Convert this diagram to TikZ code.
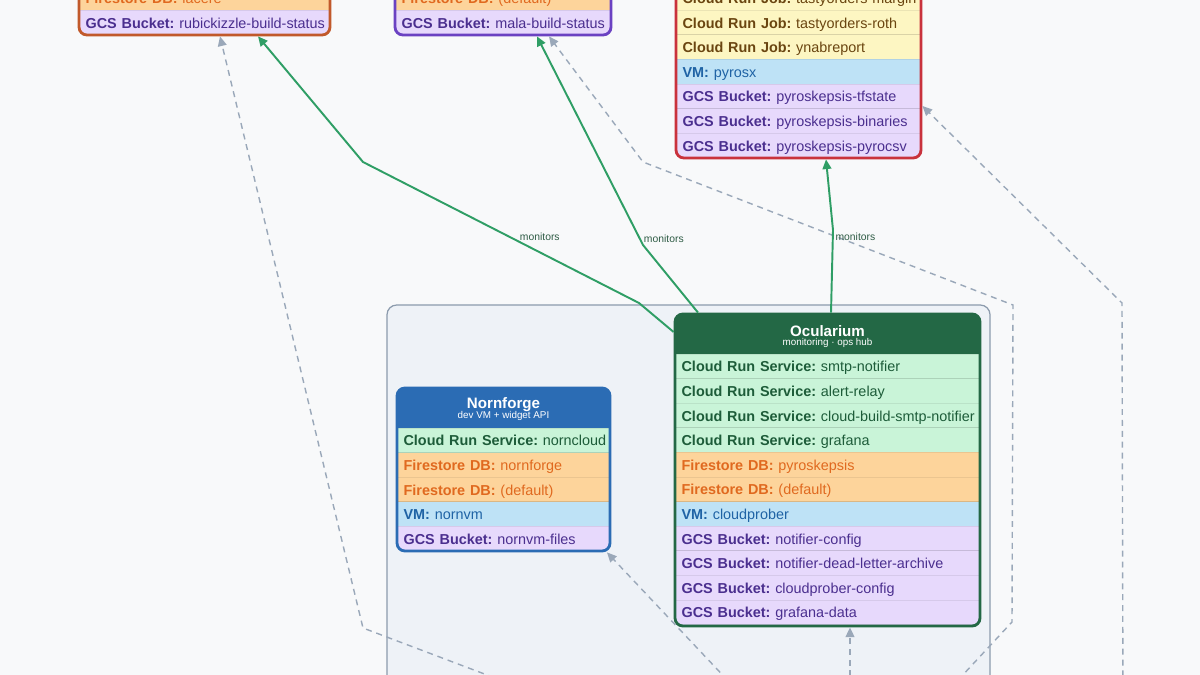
\documentclass[tikz,border=0pt]{standalone}
\usepackage{fontspec}
\setmainfont{Liberation Sans}
\usetikzlibrary{arrows.meta,fit}
\frenchspacing

\definecolor{pagebg}{HTML}{F8F9FA}
\definecolor{framefill}{HTML}{EEF2F7}
\definecolor{frameline}{HTML}{8C9BAD}
\definecolor{svcfill}{HTML}{C9F4D8}
\definecolor{svctext}{HTML}{1D5C39}
\definecolor{dbfill}{HTML}{FDD49B}
\definecolor{dbtext}{HTML}{E0691F}
\definecolor{vmfill}{HTML}{BEE2F6}
\definecolor{vmtext}{HTML}{1F63A5}
\definecolor{gcsfill}{HTML}{E7D9FC}
\definecolor{gcstext}{HTML}{4B2F8F}
\definecolor{jobfill}{HTML}{FDF6C2}
\definecolor{jobtext}{HTML}{6A4510}
\definecolor{ocuhead}{HTML}{236845}
\definecolor{nornhead}{HTML}{2B6CB4}
\definecolor{rubiline}{HTML}{C1592B}
\definecolor{malaline}{HTML}{6B42C2}
\definecolor{pyroline}{HTML}{C9323C}
\definecolor{monline}{HTML}{2F9E65}
\definecolor{depline}{HTML}{9AA8B9}
\definecolor{lbltext}{HTML}{2F5C45}

\begin{document}
\begin{tikzpicture}[x=0.02cm, y=-0.02cm, every node/.style={font=\fontsize{8.2}{9.5}\selectfont},
	row/.style={anchor=west, inner xsep=3.5pt, inner ysep=0pt, minimum height=0.492cm, text height=1.6ex, text depth=.4ex, align=left, draw=black, draw opacity=0.07, line width=0.5pt},
	svc/.style={row, fill=svcfill, text=svctext},
	db/.style={row, fill=dbfill, text=dbtext},
	vm/.style={row, fill=vmfill, text=vmtext},
	gcs/.style={row, fill=gcsfill, text=gcstext},
	job/.style={row, fill=jobfill, text=jobtext},
	card/.style={draw, line width=1.6pt, rounded corners=4.5pt, inner sep=0pt},
	title/.style={text=white, font=\fontsize{8.6}{9}\selectfont\bfseries, inner sep=0pt},
	subtitle/.style={text=white, font=\fontsize{5.6}{6}\selectfont, inner sep=0pt},
	mon/.style={color=monline, line width=1.1pt, -{Triangle[length=5.5pt, width=5pt]}},
	dep/.style={color=depline, line width=0.8pt, dash pattern=on 3.4pt off 2.8pt, -{Triangle[length=5.5pt, width=5pt]}},
	lbl/.style={text=lbltext, font=\fontsize{5.9}{6}\selectfont, inner sep=1pt}]
	\useasboundingbox (0,0) rectangle (1200,675);
	\clip (0,0) rectangle (1200,675);
	\fill[pagebg] (0,0) rectangle (1200,675);

	\coordinate (grp-nw) at (387,305);
	\coordinate (grp-se) at (990,760);
	\node[draw=frameline, fill=framefill, line width=0.7pt, rounded corners=5.5pt, inner sep=0pt, fit=(grp-nw)(grp-se)] (grp) {};

	\coordinate (rubi-nw) at (79,-40);
	\coordinate (rubi-se) at (330,35);
	\begin{scope}[row/.append style={text width=5.02cm}]
		\clip[rounded corners=4.5pt] (rubi-nw) rectangle (rubi-se);
		\node[db] (rubi-db) at (79,-2.1) {\textbf{Firestore DB:} lacere};
		\node[gcs] (rubi-gcs) at (79,22.5) {\textbf{GCS Bucket:} rubickizzle-build-status};
	\end{scope}
	\node[card, draw=rubiline, fit=(rubi-nw)(rubi-se)] (rubi) {};

	\coordinate (mala-nw) at (395,-40);
	\coordinate (mala-se) at (611,35);
	\begin{scope}[row/.append style={text width=4.32cm}]
		\clip[rounded corners=4.5pt] (mala-nw) rectangle (mala-se);
		\node[db] (mala-db) at (395,-2.1) {\textbf{Firestore DB:} (default)};
		\node[gcs] (mala-gcs) at (395,22.5) {\textbf{GCS Bucket:} mala-build-status};
	\end{scope}
	\node[card, draw=malaline, fit=(mala-nw)(mala-se)] (mala) {};

	\coordinate (pyro-nw) at (676,-60);
	\coordinate (pyro-se) at (921,158);
	\begin{scope}[row/.append style={text width=4.9cm}]
		\clip[rounded corners=4.5pt] (pyro-nw) rectangle (pyro-se);
		\node[job] (pyro-job1) at (676,-2) {\textbf{Cloud Run Job:} tastyorders-margin};
		\node[job] (pyro-job2) at (676,22.6) {\textbf{Cloud Run Job:} tastyorders-roth};
		\node[job] (pyro-job3) at (676,47.2) {\textbf{Cloud Run Job:} ynabreport};
		\node[vm] (pyro-vm) at (676,71.8) {\textbf{VM:} pyrosx};
		\node[gcs] (pyro-gcs1) at (676,96.4) {\textbf{GCS Bucket:} pyroskepsis-tfstate};
		\node[gcs] (pyro-gcs2) at (676,121) {\textbf{GCS Bucket:} pyroskepsis-binaries};
		\node[gcs] (pyro-gcs3) at (676,145.6) {\textbf{GCS Bucket:} pyroskepsis-pyrocsv};
	\end{scope}
	\node[card, draw=pyroline, fit=(pyro-nw)(pyro-se)] (pyro) {};

	\coordinate (norn-nw) at (397,388);
	\coordinate (norn-se) at (610,551);
	\begin{scope}[row/.append style={text width=4.26cm}]
		\clip[rounded corners=4.5pt] (norn-nw) rectangle (norn-se);
		\fill[nornhead] (norn-nw) rectangle (norn-se |- 0,428);
		\node[svc] (norn-svc) at (397,440.3) {\textbf{Cloud Run Service:} norncloud};
		\node[db] (norn-db1) at (397,464.9) {\textbf{Firestore DB:} nornforge};
		\node[db] (norn-db2) at (397,489.5) {\textbf{Firestore DB:} (default)};
		\node[vm] (norn-vm) at (397,514.1) {\textbf{VM:} nornvm};
		\node[gcs] (norn-gcs) at (397,538.7) {\textbf{GCS Bucket:} nornvm-files};
	\end{scope}
	\node[card, draw=nornhead, fit=(norn-nw)(norn-se)] (norn) {};
	\node[title] (norn-title) at (503.5,405) {Nornforge};
	\node[subtitle] (norn-sub) at (503.5,416) {dev VM + widget API};

	\coordinate (ocu-nw) at (675,314);
	\coordinate (ocu-se) at (980,626);
	\begin{scope}[row/.append style={text width=6.1cm}]
		\clip[rounded corners=4.5pt] (ocu-nw) rectangle (ocu-se);
		\fill[ocuhead] (ocu-nw) rectangle (ocu-se |- 0,354);
		\node[svc] (ocu-svc1) at (675,366.3) {\textbf{Cloud Run Service:} smtp-notifier};
		\node[svc] (ocu-svc2) at (675,390.9) {\textbf{Cloud Run Service:} alert-relay};
		\node[svc] (ocu-svc3) at (675,415.5) {\textbf{Cloud Run Service:} cloud-build-smtp-notifier};
		\node[svc] (ocu-svc4) at (675,440.1) {\textbf{Cloud Run Service:} grafana};
		\node[db] (ocu-db1) at (675,464.7) {\textbf{Firestore DB:} pyroskepsis};
		\node[db] (ocu-db2) at (675,489.3) {\textbf{Firestore DB:} (default)};
		\node[vm] (ocu-vm) at (675,513.9) {\textbf{VM:} cloudprober};
		\node[gcs] (ocu-gcs1) at (675,538.5) {\textbf{GCS Bucket:} notifier-config};
		\node[gcs] (ocu-gcs2) at (675,563.1) {\textbf{GCS Bucket:} notifier-dead-letter-archive};
		\node[gcs] (ocu-gcs3) at (675,587.7) {\textbf{GCS Bucket:} cloudprober-config};
		\node[gcs] (ocu-gcs4) at (675,612.3) {\textbf{GCS Bucket:} grafana-data};
	\end{scope}
	\node[card, draw=ocuhead, fit=(ocu-nw)(ocu-se)] (ocu) {};
	\node[title] (ocu-title) at (827.5,331) {Ocularium};
	\node[subtitle] (ocu-sub) at (827.5,342.5) {monitoring · ops hub};

	\coordinate (src-rubi) at (606,720);
	\coordinate (src-mala) at (921,720);
	\coordinate (src-pyro) at (1123,720);
	\coordinate (src-norn) at (765,720);
	\coordinate (src-ocu) at (850,720);
	\draw[dep] (src-rubi) -- (363,628) -- (rubi.south -| 220,0);
	\draw[dep] (src-mala) -- (1012,622) -- (1013,305) -- (643,162) -- (mala.south -| 549,0);
	\draw[dep] (src-pyro) -- (1122,303) -- (pyro.east |- 0,106);
	\draw[dep] (src-norn) -- (norn.south -| 607,0);
	\draw[dep] (src-ocu) -- (ocu.south -| 850,0);

	\draw[mon] (ocu.west |- 0,332) -- (639,303) -- (363,162) node[lbl, pos=0.47, anchor=west, xshift=4.5pt] (lbl-rubi) {monitors} -- (rubi.south -| 258,0);
	\draw[mon] (ocu.north -| 698,0) -- (643,245) node[lbl, pos=1, anchor=south west, xshift=-1pt] (lbl-mala) {monitors} -- (mala.south -| 537,0);
	\draw[mon] (ocu.north -| 831,0) -- (833,230) node[lbl, pos=0.92, anchor=west] (lbl-pyro) {monitors} -- (pyro.south -| 826,0);
\end{tikzpicture}
\end{document}
